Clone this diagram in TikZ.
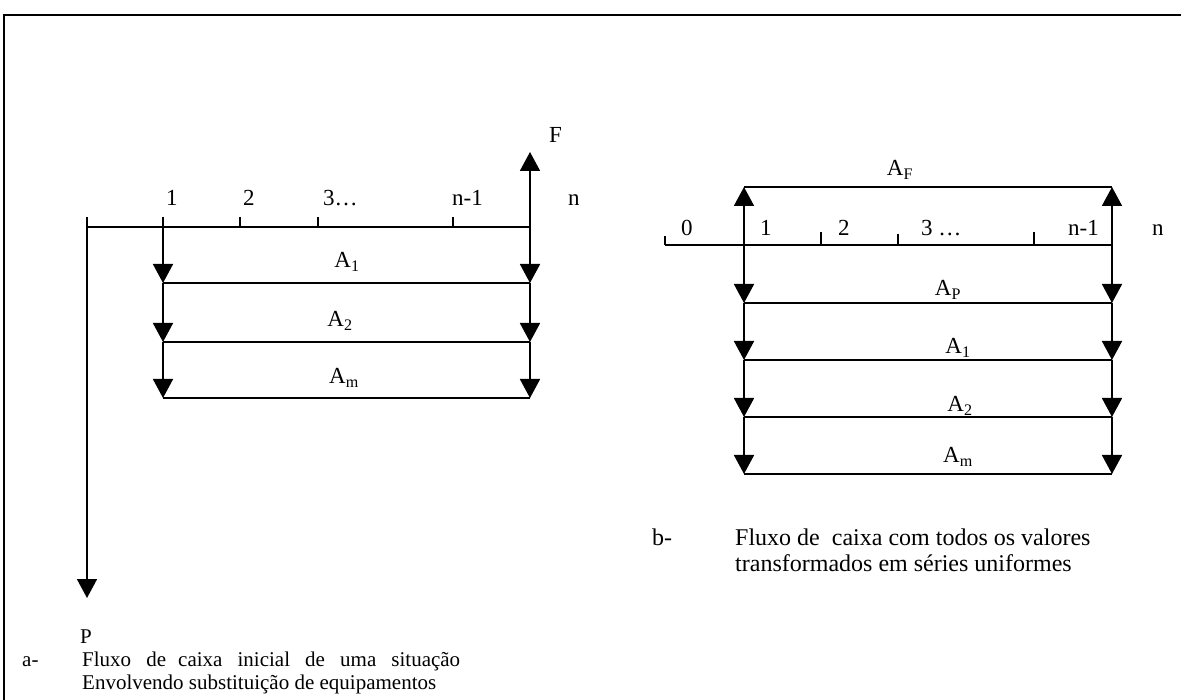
\documentclass[tikz,border=0pt]{standalone}
\usepackage{fontspec}
\setmainfont{Liberation Serif}
\usetikzlibrary{arrows.meta}
\begin{document}
\begin{tikzpicture}[x=1pt,y=-1pt,
  ln/.style={line width=1.8pt},
  arr/.style={ln,-{Triangle[width=20pt,length=19pt]}},
  lbl/.style={font=\fontsize{23}{26}\selectfont, inner sep=0pt},
  tlbl/.style={lbl, anchor=base west},
  alb/.style={lbl, anchor=center},
  capl/.style={font=\fontsize{21}{24}\selectfont, inner sep=0pt, anchor=base west},
  capr/.style={font=\fontsize{24}{27}\selectfont, inner sep=0pt, anchor=base west},
]
\useasboundingbox (0,0) rectangle (1181,700);
% frame
\coordinate (fr1) at (4,700);
\coordinate (fr2) at (4,15);
\coordinate (fr3) at (1181,15);
\draw[line width=2.4pt] (fr1) -- (fr2) -- (fr3);

% ---------- left diagram ----------
\coordinate (L0t) at (87,217);
\coordinate (L0) at (87,227);
\coordinate (Ptip) at (87,598);
\coordinate (L1t) at (163,217);
\coordinate (L1) at (163,227);
\coordinate (L2t) at (240,217);
\coordinate (L2) at (240,227);
\coordinate (L3t) at (318,217);
\coordinate (L3) at (318,227);
\coordinate (L4t) at (453,217);
\coordinate (L4) at (453,227);
\coordinate (Ln) at (530,227);
\coordinate (Ftip) at (530,152);
\coordinate (a1L) at (163,283);
\coordinate (a1R) at (530,283);
\coordinate (a2L) at (163,342);
\coordinate (a2R) at (530,342);
\coordinate (amL) at (163,398);
\coordinate (amR) at (530,398);

\draw[ln] (L0) -- (Ln);
\draw[ln] (L0t) -- (L0);
\draw[arr] (L0) -- (Ptip);
\draw[ln] (L1t) -- (L1);
\draw[ln] (L2t) -- (L2);
\draw[ln] (L3t) -- (L3);
\draw[ln] (L4t) -- (L4);
\draw[arr] (Ln) -- (Ftip);
\draw[arr] (L1) -- (a1L);
\draw[arr] (a1L) -- (a2L);
\draw[arr] (a2L) -- (amL);
\draw[arr] (Ln) -- (a1R);
\draw[arr] (a1R) -- (a2R);
\draw[arr] (a2R) -- (amR);
\draw[ln] (a1L) -- (a1R);
\draw[ln] (a2L) -- (a2R);
\draw[ln] (amL) -- (amR);

\node[tlbl] (t1) at (166,206) {1};
\node[tlbl] (t2) at (243,206) {2};
\node[tlbl] (t3) at (323,206) {3…};
\node[tlbl] (t4) at (452,206) {n-1};
\node[tlbl] (tn) at (568,206) {n};
\node[tlbl] (tF) at (549,143) {F};
\node[alb] (lA1) at (347,262) {A\textsubscript{1}};
\node[alb] (lA2) at (340,321) {A\textsubscript{2}};
\node[alb] (lAm) at (344,378) {A\textsubscript{m}};
\node[capl] (tP) at (80,643) {P};
\node[capl] (capa1) at (22,666) {a-};
\node[capl] (capa2) at (82,666) {\makebox[378pt][s]{Fluxo de\kern-3pt{} caixa inicial de uma situação}};
\node[capl] (capa3) at (82,689) {Envolvendo substituição de equipamentos};

% ---------- right diagram ----------
\coordinate (R0t) at (665,236);
\coordinate (R0) at (665,245);
\coordinate (R1) at (744,245);
\coordinate (R2t) at (821,232);
\coordinate (R2) at (821,245);
\coordinate (R3t) at (898,234);
\coordinate (R3) at (898,245);
\coordinate (R4t) at (1034,232);
\coordinate (R4) at (1034,245);
\coordinate (Rn) at (1112,245);
\coordinate (fL) at (744,187);
\coordinate (fR) at (1112,187);
\coordinate (pL) at (744,303);
\coordinate (pR) at (1112,303);
\coordinate (b1L) at (744,360);
\coordinate (b1R) at (1112,360);
\coordinate (b2L) at (744,417);
\coordinate (b2R) at (1112,417);
\coordinate (bmL) at (744,474);
\coordinate (bmR) at (1112,474);

\draw[ln] (R0) -- (Rn);
\draw[ln] (R0t) -- (R0);
\draw[ln] (R2t) -- (R2);
\draw[ln] (R3t) -- (R3);
\draw[ln] (R4t) -- (R4);
\draw[arr] (R1) -- (fL);
\draw[arr] (Rn) -- (fR);
\draw[ln] (fL) -- (fR);
\draw[arr] (R1) -- (pL);
\draw[arr] (pL) -- (b1L);
\draw[arr] (b1L) -- (b2L);
\draw[arr] (b2L) -- (bmL);
\draw[arr] (Rn) -- (pR);
\draw[arr] (pR) -- (b1R);
\draw[arr] (b1R) -- (b2R);
\draw[arr] (b2R) -- (bmR);
\draw[ln] (pL) -- (pR);
\draw[ln] (b1L) -- (b1R);
\draw[ln] (b2L) -- (b2R);
\draw[ln] (bmL) -- (bmR);

\node[tlbl] (r0) at (681,236) {0};
\node[tlbl] (r1) at (760,236) {1};
\node[tlbl] (r2) at (838,236) {2};
\node[tlbl] (r3) at (921,236) {3 …};
\node[tlbl] (r4) at (1068,236) {n-1};
\node[tlbl] (rn) at (1152,236) {n};
\node[alb] (rAF) at (900,170) {A\textsubscript{F}};
\node[alb] (rAP) at (948,290) {A\textsubscript{P}};
\node[alb] (rA1) at (958,348) {A\textsubscript{1}};
\node[alb] (rA2) at (960,406) {A\textsubscript{2}};
\node[alb] (rAm) at (958,457) {A\textsubscript{m}};
\node[capr] (capb1) at (652,545) {b-};
\node[capr] (capb2) at (735,545) {Fluxo de \ caixa com todos os valores};
\node[capr] (capb3) at (735,571) {transformados em séries uniformes};
\end{tikzpicture}
\end{document}
